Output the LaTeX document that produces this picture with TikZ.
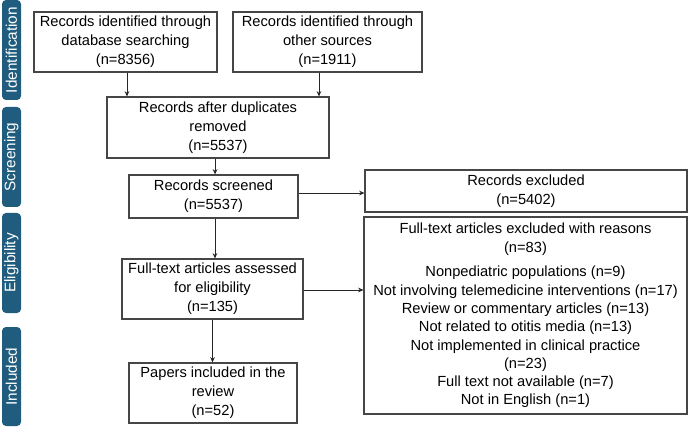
\documentclass[tikz,border=0pt]{standalone}
\usepackage{fontspec}
\setmainfont{Liberation Sans}
\usepackage{xcolor}
\usetikzlibrary{arrows.meta}

\definecolor{phaseblue}{RGB}{31,92,125}
\definecolor{edgegray}{RGB}{70,70,70}

\begin{document}
\begin{tikzpicture}[
    x=0.75pt, y=-0.75pt,
    block/.style={rectangle, draw=edgegray, line width=0.8pt, align=center, inner sep=0pt, font=\fontsize{11}{14.2}\selectfont, minimum height=45pt},
    arr/.style={-{Stealth[length=4pt, width=3.5pt]}, draw=black!85, line width=0.6pt},
    phase/.style={rectangle, rounded corners=3pt, fill=phaseblue, text=white, rotate=90, inner sep=0pt, minimum width=75pt, minimum height=14.25pt, font=\fontsize{11.5}{12}\selectfont},
]
    \useasboundingbox (0,0) rectangle (688,427);

    % Phases
    \node[phase] (ident) at (11.5,50) {Identification};
    \node[phase] (screen) at (11.5,157) {Screening};
    \node[phase] (elig) at (11.5,263) {Eligibility};
    \node[phase, minimum width=74.25pt] (incl) at (11.5,376.5) {Included};

    % Identification
    \node[block, minimum width=137.25pt] (db) at (125.5,42) {Records identified through\\database searching\\(n=8356)};
    \node[block, minimum width=141.75pt] (other) at (327.5,42) {Records identified through\\other sources\\(n=1911)};

    % Screening
    \node[block, minimum width=166.5pt, minimum height=45.75pt] (dup) at (218,127.5) {Records after duplicates\\removed\\(n=5537)};
    \node[block, minimum width=126.75pt, minimum height=32.25pt] (screened) at (213.5,196.5) {Records screened\\(n=5537)};
    \node[block, minimum width=241.5pt, minimum height=31.5pt] (excl) at (526,191) {Records excluded\\(n=5402)};

    % Eligibility
    \node[block, minimum width=135.75pt] (fulltext) at (212.5,289) {Full-text articles assessed\\for eligibility\\(n=135)};
    \node[block, minimum width=242.25pt, minimum height=147.75pt, font=\fontsize{11}{13.7}\selectfont] (reasons) at (525.5,315.5) {Full-text articles excluded with reasons\\(n=83)\\[5pt]
        Nonpediatric populations (n=9)\\
        Not involving telemedicine interventions (n=17)\\
        Review or commentary articles (n=13)\\
        Not related to otitis media (n=13)\\
        Not implemented in clinical practice\\
        (n=23)\\
        Full text not available (n=7)\\
        Not in English (n=1)};

    % Included
    \node[block, minimum width=126pt] (papers) at (213,393) {Papers included in the\\review\\(n=52)};

    % Arrows
    \draw[arr] ([xshift=1.1pt]db.south) -- ([xshift=1.1pt]db.south |- dup.north);
    \draw[arr] ([xshift=-6.4pt]other.south) -- ([xshift=-6.4pt]other.south |- dup.north);
    \draw[arr] ([xshift=-2.2pt]dup.south) -- ([xshift=-2.2pt]dup.south |- screened.north);
    \draw[arr] ([xshift=1.1pt]screened.south) -- ([xshift=1.1pt]screened.south |- fulltext.north);
    \draw[arr] ([yshift=2.6pt]screened.east) -- ([yshift=2.6pt]screened.east -| excl.west);
    \draw[arr] (fulltext.south) -- (fulltext.south |- papers.north);
    \draw[arr] ([yshift=-0.75pt]fulltext.east) -- ([yshift=-0.75pt]fulltext.east -| reasons.west);

\end{tikzpicture}
\end{document}
